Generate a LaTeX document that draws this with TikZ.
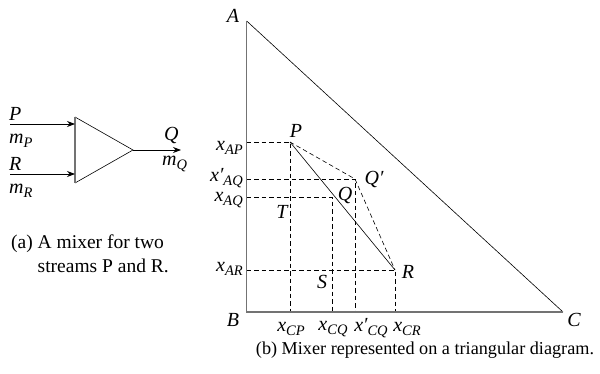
\documentclass[tikz,border=0pt]{standalone}
\usepackage{fontspec}
\setmainfont{Liberation Serif}
\usetikzlibrary{arrows.meta}
\newcommand\iv[2]{\textit{#1}\raisebox{-3.5pt}{\fontsize{14.5}{14.5}\selectfont\itshape #2}}
\begin{document}
\begin{tikzpicture}[x=1pt,y=-1pt,
  lbl/.style={inner sep=0pt,font=\fontsize{20}{22}\selectfont\itshape},
  capa/.style={inner sep=0pt,font=\fontsize{19.5}{23.5}\selectfont},
  capb/.style={inner sep=0pt,font=\fontsize{18.2}{22}\selectfont},
  axisline/.style={draw=black!55,line width=1.1pt},
  thinline/.style={draw=black,line width=0.6pt},
  dsh/.style={draw=black,line width=0.6pt,dash pattern=on 4.5pt off 3pt},
  arr/.style={draw=black,line width=0.8pt,-{Stealth[length=8pt,width=6pt]}}]
\useasboundingbox (0,0) rectangle (600,374);
% ---- mixer ----
\coordinate (mt) at (75,117);
\coordinate (mb) at (75,183);
\coordinate (mtip) at (133,150);
\coordinate (in1) at (10,124);
\coordinate (in2) at (10,174);
\coordinate (e1) at (75,124);
\coordinate (e2) at (75,174);
\coordinate (out) at (181,150);
\draw[thinline] (mt) -- (mtip) -- (mb);
\draw[axisline] (mt) -- (mb);
\draw[arr] (in1) -- (e1);
\draw[arr] (in2) -- (e2);
\draw[arr] (mtip) -- (out);
\node[lbl,anchor=west] (lP) at (9,114) {P};
\node[lbl,anchor=west] (lmP) at (9,141) {\iv{m}{P}};
\node[lbl,anchor=west] (lR) at (9,164) {R};
\node[lbl,anchor=west] (lmR) at (9,191) {\iv{m}{R}};
\node[lbl,anchor=west] (lQ) at (164,136) {Q};
\node[lbl,anchor=west] (lmQ) at (162,164) {\iv{m}{Q}};
\node[capa,anchor=north west] (cpa) at (11,232) {\begin{tabular}{@{}l@{ }l@{}}(a)&A mixer for two\\&streams P and R.\end{tabular}};
% ---- triangle ----
\coordinate (A) at (246.7,21);
\coordinate (B) at (246.7,312);
\coordinate (C) at (563,312);
\coordinate (P) at (290,142);
\coordinate (Qp) at (355,179);
\coordinate (Q) at (332,197);
\coordinate (R) at (395,270);
\coordinate (aP) at (246.7,142);
\coordinate (aQp) at (246.7,179);
\coordinate (aQ) at (246.7,197);
\coordinate (aR) at (246.7,270);
\coordinate (cP) at (290,312);
\coordinate (cQ) at (332,312);
\coordinate (cQp) at (355,312);
\coordinate (cR) at (395,312);
\draw[dsh] (aP) -- (P) -- (cP);
\draw[dsh] (aQp) -- (Qp) -- (cQp);
\draw[dsh] (aQ) -- (Q) -- (cQ);
\draw[dsh] (aR) -- (R) -- (cR);
\draw[dsh] (P) -- (Qp) -- (R);
\draw[thinline] (P) -- (R);
\draw[thinline] (A) -- (C);
\draw[axisline] (A) -- (B) -- (C);
\node[lbl] (lA) at (233,16) {A};
\node[lbl] (lB) at (233,320) {B};
\node[lbl] (lC) at (574,320) {C};
\node[lbl] (tP) at (296,131) {P};
\node[lbl] (tQp) at (374,180) {Q′};
\node[lbl] (tQ) at (345,196) {Q};
\node[lbl] (tT) at (282,212) {T};
\node[lbl] (tS) at (322,282) {S};
\node[lbl] (tR) at (408,272) {R};
\node[lbl,anchor=east] (xAP) at (243,148) {\iv{x}{AP}};
\node[lbl,anchor=east] (xAQp) at (243,178) {\iv{x′}{AQ}};
\node[lbl,anchor=east] (xAQ) at (243,200) {\iv{x}{AQ}};
\node[lbl,anchor=east] (xAR) at (243,269) {\iv{x}{AR}};
\node[lbl] (xCP) at (291,329) {\iv{x}{CP}};
\node[lbl] (xCQ) at (333,329) {\iv{x}{CQ}};
\node[lbl] (xCQp) at (371,328) {\iv{x′}{CQ}};
\node[lbl] (xCR) at (407,329) {\iv{x}{CR}};
\node[capb] (cpb) at (425,350) {(b) Mixer represented on a triangular diagram.};
\end{tikzpicture}
\end{document}
